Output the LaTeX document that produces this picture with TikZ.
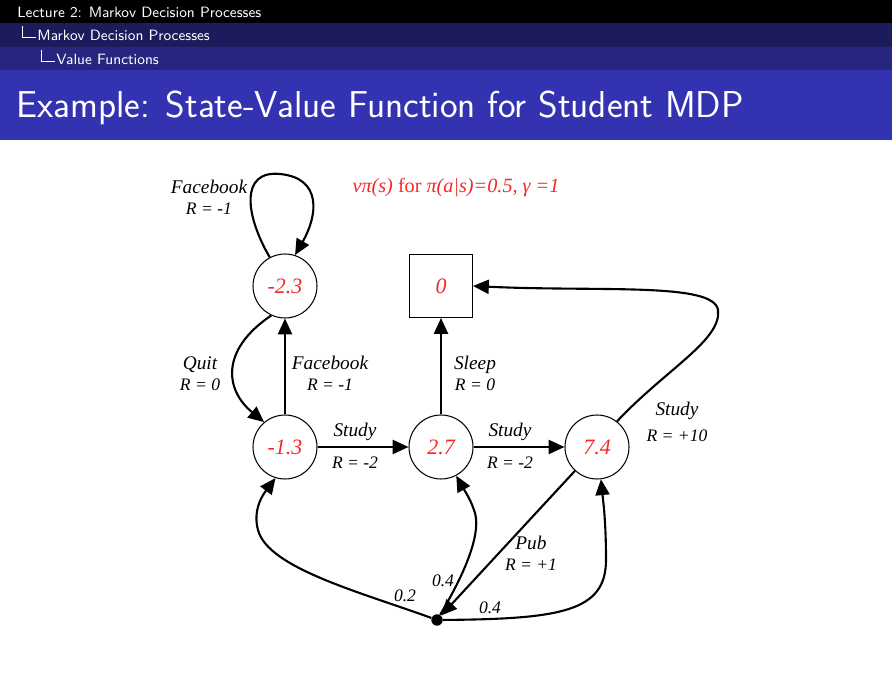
\documentclass[tikz,border=0pt]{standalone}
\usepackage{fontspec}
\newfontfamily\tms{Liberation Serif}
\usetikzlibrary{arrows.meta}
\definecolor{barA}{RGB}{0,0,0}
\definecolor{barB}{RGB}{28,28,92}
\definecolor{barC}{RGB}{38,38,128}
\definecolor{barD}{RGB}{51,51,178}
\definecolor{valred}{RGB}{245,40,40}
\begin{document}
\begin{tikzpicture}[x=0.02cm,y=-0.02cm,
  st/.style={circle,draw,line width=0.6pt,minimum size=1.28cm,inner sep=0pt,font=\tms\itshape\fontsize{12.5}{14}\selectfont,text=valred},
  term/.style={rectangle,draw,line width=0.6pt,minimum size=1.26cm,inner sep=0pt,font=\tms\itshape\fontsize{12.5}{14}\selectfont,text=valred},
  lbl/.style={font=\tms\itshape\fontsize{11}{13}\selectfont,align=center,inner sep=0pt},
  hdr/.style={font=\sffamily\fontsize{8.5}{10}\selectfont,text=white,anchor=west,inner sep=0pt},
  tr/.style={line width=1.2pt,-{Triangle[length=9pt,width=8pt]}}]
\useasboundingbox (0,0) rectangle (892,675);
\fill[white] (0,0) rectangle (892,675);
\fill[barA] (0,0) rectangle (892,23);
\fill[barB] (0,23) rectangle (892,47);
\fill[barC] (0,47) rectangle (892,70);
\fill[barD] (0,70) rectangle (892,140);
\node[hdr] (h1) at (17,12) {Lecture 2: Markov Decision Processes};
\node[hdr] (h2) at (37,35) {Markov Decision Processes};
\node[hdr] (h3) at (56,59) {Value Functions};
\draw[white,line width=0.4pt] (22,26) -- (22,37) -- (36,37);
\draw[white,line width=0.4pt] (41,50) -- (41,61) -- (55,61);
\node[font=\sffamily\fontsize{21.3}{25}\selectfont,text=white,anchor=west,inner sep=0pt] (title) at (16,108) {Example: State-Value Function for Student MDP};

\node[font=\tms\fontsize{11.5}{14}\selectfont,text=valred,inner sep=0pt] (cap) at (456,188) {\itshape vπ(s) \upshape for \itshape π(a|s)=0.5, γ =1};

\node[st] (fb) at (285,286) {-2.3};
\node[term] (sl) at (441,286) {0};
\node[st] (c1) at (285,447) {-1.3};
\node[st] (c2) at (441,447) {2.7};
\node[st] (c3) at (597,447) {7.4};
\node[circle,fill,inner sep=0pt,minimum size=6.5pt] (pub) at (437,620) {};

% self loop
\draw[tr] (fb.118) .. controls (245,215) and (240,170) .. (280,174) .. controls (322,178) and (318,215) .. (fb.72);
\node[lbl] (l1) at (209,197) {Facebook\\[-1pt]\fontsize{10}{12}\selectfont R = -1};
% facebook up
\draw[tr] (c1) -- (fb);
\node[lbl] (l2) at (330,373) {Facebook\\[-1pt]\fontsize{10}{12}\selectfont R = -1};
% quit
\draw[tr] (fb.-115) .. controls (220,350) and (225,390) .. (c1.130);
\node[lbl] (l3) at (200,374) {Quit\\[-1pt]\fontsize{10}{12}\selectfont R = 0};
% sleep
\draw[tr] (c2) -- (sl);
\node[lbl] (l4) at (475,373) {Sleep\\[-1pt]\fontsize{10}{12}\selectfont R = 0};
% study
\draw[tr] (c1) -- (c2);
\node[lbl] (l5a) at (355,432) {Study};
\node[lbl,font=\tms\itshape\fontsize{10}{12}\selectfont] (l5b) at (355,463) {R = -2};
\draw[tr] (c2) -- (c3);
\node[lbl] (l6a) at (510,432) {Study};
\node[lbl,font=\tms\itshape\fontsize{10}{12}\selectfont] (l6b) at (510,463) {R = -2};
% study to sleep
\draw[tr] (c3.52) .. controls (665,370) and (722,340) .. (718,310) .. controls (714,282) and (600,292) .. (sl.east);
\node[lbl] (l7a) at (677,411) {Study};
\node[lbl,font=\tms\itshape\fontsize{10}{12}\selectfont] (l7b) at (677,436) {R = +10};
% pub
\draw[tr] (c3) -- (pub);
\node[lbl] (l8) at (531,553) {Pub\\[-1pt]\fontsize{10}{12}\selectfont R = +1};
% branches
\draw[tr] (pub) .. controls (360,592) and (268,568) .. (258,530) .. controls (252,508) and (265,492) .. (c1.-107);
\draw[tr] (pub) .. controls (468,568) and (482,530) .. (474,510) .. controls (470,498) and (463,488) .. (c2.-62);
\draw[tr] (pub) .. controls (560,619) and (606,612) .. (606,560) .. controls (606,520) and (603,500) .. (c3.-83);
\node[lbl,font=\tms\itshape\fontsize{10}{12}\selectfont] (p1) at (405,596) {0.2};
\node[lbl,font=\tms\itshape\fontsize{10}{12}\selectfont] (p2) at (443,581) {0.4};
\node[lbl,font=\tms\itshape\fontsize{10}{12}\selectfont] (p3) at (490,608) {0.4};
\end{tikzpicture}
\end{document}
